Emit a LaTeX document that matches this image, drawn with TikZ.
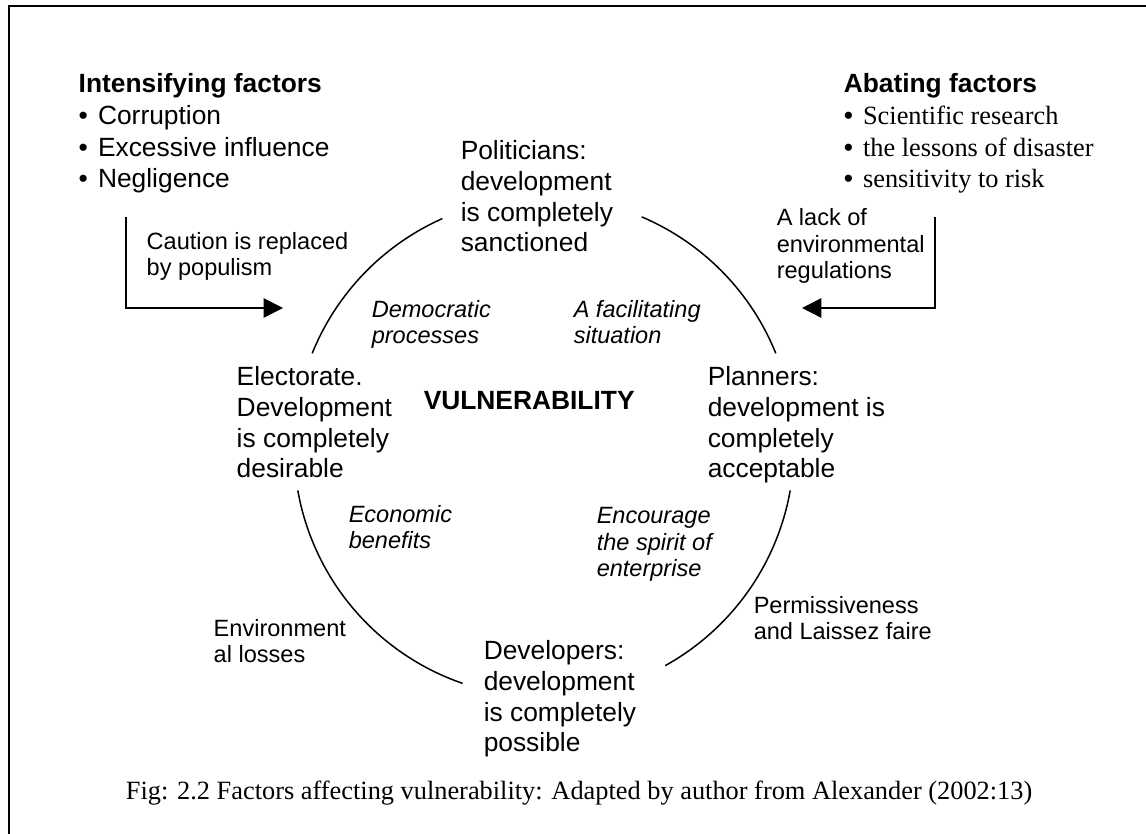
\documentclass[tikz,border=0pt]{standalone}
\usepackage{fontspec}
\setmainfont{Liberation Sans}
\newfontfamily\timesfont{Liberation Serif}
\usetikzlibrary{arrows.meta}
\newcommand{\itm}{\makebox[11pt][l]{\rmfamily\textbullet}}

\begin{document}
\begin{tikzpicture}
  [x=0.02cm,y=0.02cm,line width=0.85pt,
   every node/.style={inner sep=0pt, align=left, anchor=base west},
   bigtxt/.style={font=\fontsize{15}{17.6}\selectfont},
   listtxt/.style={font=\fontsize{15}{18.2}\selectfont},
   smalltxt/.style={font=\fontsize{13.4}{15.3}\selectfont},
   slanttxt/.style={font=\fontsize{13.4}{15.3}\selectfont\itshape},
   captxt/.style={font=\fontsize{15}{17.6}\selectfont\timesfont},
   push/.style={-{Triangle[length=11pt,width=11pt]}}]
  \useasboundingbox (0,0) rectangle (1146,834);
  \draw[line width=1.3pt] (9,0) |- (1146,828);

  % factors at the top corners (nodes sit on their last line)
  \node[listtxt] (intens) at (78,646) {\textbf{Intensifying factors}\\
    \itm Corruption\\\itm Excessive influence\\\itm Negligence};
  \node[listtxt] (abate) at (843,646) {\textbf{Abating factors}\\
    {\timesfont\itm Scientific research}\\
    {\timesfont\itm the lessons of disaster}\\
    {\timesfont\itm sensitivity to risk}};

  % the four parties round the circle
  \node[bigtxt] (pol) at (460,582) {Politicians:\\development\\is completely\\sanctioned};
  \node[bigtxt] (plan) at (707,356) {Planners:\\development is\\completely\\acceptable};
  \node[bigtxt] (dev) at (483,82) {Developers:\\development\\is completely\\possible};
  \node[bigtxt] (elect) at (236,356) {Electorate.\\Development\\is completely\\desirable};
  \node[bigtxt] (vul) at (423,424) {\textbf{VULNERABILITY}};

  % what drives each step
  \node[slanttxt] (demo) at (371,490) {Democratic\\processes};
  \node[slanttxt] (facil) at (573,490) {A facilitating\\situation};
  \node[slanttxt] (econ) at (348,285) {Economic\\benefits};
  \node[slanttxt] (enter) at (596,257) {Encourage\\the spirit of\\enterprise};

  % side effects
  \node[smalltxt] (caution) at (146,558) {Caution is replaced\\by populism};
  \node[smalltxt] (lack) at (776,555) {A lack of\\environmental\\regulations};
  \node[smalltxt] (envloss) at (213,171) {Environment\\al losses};
  \node[smalltxt] (permit) at (753,194) {Permissiveness\\and Laissez faire};

  \node[captxt, anchor=base east] (caption) at (1033,34)
    {Fig: 2.2 Factors affecting vulnerability: Adapted by author from Alexander (2002:13)};

  % the cycle
  \coordinate (hub) at (544,387);
  \foreach \from/\to in {114/158, 22/67, 190/251, -61/-10}
    \draw ([shift={(\from:250)}]hub) arc[start angle=\from, end angle=\to, radius=250];

  % factors pressing on the cycle
  \coordinate (intTop) at (126,617);
  \coordinate (intTip) at (283,526);
  \coordinate (abTop) at (935,617);
  \coordinate (abTip) at (802,526);
  \draw[push] (intTop) |- (intTip);
  \draw[push] (abTop) |- (abTip);
\end{tikzpicture}
\end{document}
